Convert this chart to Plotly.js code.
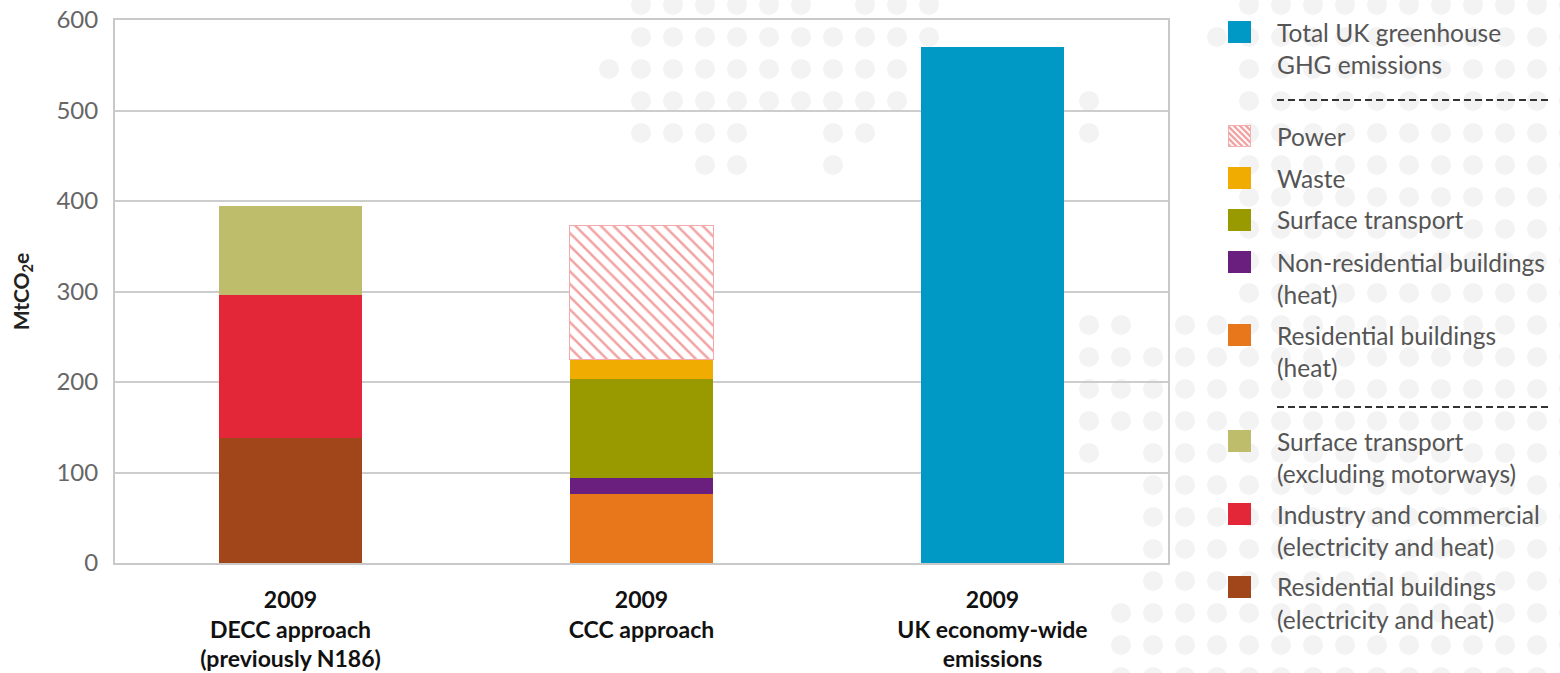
<!DOCTYPE html>
<html>
<head>
<meta charset="utf-8">
<script src="https://cdn.plot.ly/plotly-3.0.1.min.js"></script>
<style>html,body{margin:0;padding:0;background:#fff;}#chart{width:1560px;height:673px;}</style>
</head>
<body>
<div id="chart"></div>
<script>
// ---- data ----
const categories = ["2009<br>DECC approach<br>(previously N186)", "2009<br>CCC approach", "2009<br>UK economy-wide<br>emissions"];
const residentialElecHeat = [138, null, null];
const industryCommercial = [158, null, null];
const surfaceTransportExcl = [99, null, null];
const residentialHeat = [null, 76, null];
const nonResidentialHeat = [null, 18, null];
const surfaceTransport = [null, 109, null];
const waste = [null, 22, null];
const power = [null, 148, null];
const totalUK = [null, null, 570];
const yTicks = [0, 100, 200, 300, 400, 500, 600];

const legendNames = [
  ["Total UK greenhouse", "GHG emissions"],
  ["Power"],
  ["Waste"],
  ["Surface transport"],
  ["Non-residential buildings", "(heat)"],
  ["Residential buildings", "(heat)"],
  ["Surface transport", "(excluding motorways)"],
  ["Industry and commercial", "(electricity and heat)"],
  ["Residential buildings", "(electricity and heat)"]
];

// ---- styles ----
const C = {
  blue: '#0099C6', pink: '#F2A0A0', waste: '#F0AC00', olive: '#999A00',
  purple: '#6A1F7E', orange: '#E8761B', oliveLight: '#BDBD6C', red: '#E32638', brown: '#A0461A'
};
const legendColors = [C.blue, 'hatch', C.waste, C.olive, C.purple, C.orange, C.oliveLight, C.red, C.brown];
const legendY = [32, 136, 178, 220, 262, 335, 441, 514, 587];

function bar(name, y, color, extra) {
  const t = {type: 'bar', name: name, x: categories, y: y, showlegend: false,
    marker: {color: color, line: {width: 0}}, hovertemplate: name + ': %{y}<extra></extra>'};
  return Object.assign(t, extra || {});
}
const traces = [
  bar('Residential buildings (electricity and heat)', residentialElecHeat, C.brown),
  bar('Industry and commercial (electricity and heat)', industryCommercial, C.red),
  bar('Surface transport (excluding motorways)', surfaceTransportExcl, C.oliveLight),
  bar('Residential buildings (heat)', residentialHeat, C.orange),
  bar('Non-residential buildings (heat)', nonResidentialHeat, C.purple),
  bar('Surface transport', surfaceTransport, C.olive),
  bar('Waste', waste, C.waste),
  bar('Power', power, '#ffffff', {marker: {color: '#ffffff',
    pattern: {shape: '\\', fgcolor: '#F2A2A2', bgcolor: '#ffffff', size: 9, solidity: 0.28, fillmode: 'replace'},
    line: {color: '#F4AAAA', width: 1.5}}}),
  bar('Total UK greenhouse GHG emissions', totalUK, C.blue)
];

// ---- layout geometry ----
const L = 115, T = 20, W = 1053, H = 543;
const px = x => (x - L) / W;
const py = y => (T + H - y) / H;

// background dot decoration
function dotOn(c, r) {
  const top = {0: [[1,6],[8,10]], 1: [[1,10]], 2: [[0,9]], 3: [[1,9],[15,15]], 4: [[1,4],[7,8],[15,15]], 5: [[3,4],[7,7]]};
  if (top[r]) for (const [a,b] of top[r]) if (c >= a && c <= b) return true;
  if (r === 0) return c >= 20;
  if (r === 1) return c >= 19;
  if (r >= 2 && r <= 9) return c >= 20;
  if (r === 10) return c === 15 || c === 16 || c >= 18;
  if (r >= 11) {
    if (c === 15 && r >= 15) return false;
    if (c === 16 && r >= 14 && r <= 18) return false;
    return c >= 15;
  }
  return false;
}
let dots = '';
for (let r = 0; r <= 21; r++) for (let c = 0; c <= 30; c++) {
  if (dotOn(c, r)) dots += `<circle cx="${609 + 32 * c}" cy="${5 + 32 * r}" r="10" fill="#F3F3F3"/>`;
}
const dotSvg = `<svg xmlns="http://www.w3.org/2000/svg" width="1560" height="673" viewBox="0 0 1560 673">${dots}</svg>`;
const hatchSvg = `<svg xmlns="http://www.w3.org/2000/svg" width="23" height="22" viewBox="0 0 23 22"><defs><clipPath id="c"><rect x="0" y="0" width="23" height="22"/></clipPath></defs><rect width="23" height="22" fill="#fff"/><g clip-path="url(#c)" stroke="#F2A3A3" stroke-width="2.4">` +
  [-25,-19,-13,-7,-1,5,11,17,23].map(k => `<line x1="${k}" y1="0" x2="${k+22}" y2="22"/>`).join('') + `</g><rect x="0.5" y="0.5" width="22" height="21" fill="none" stroke="#F4B0B0" stroke-width="1"/></svg>`;
const uri = s => 'data:image/svg+xml;charset=utf-8,' + encodeURIComponent(s);

const images = [{source: uri(dotSvg), xref: 'paper', yref: 'paper', x: px(0), y: py(0),
  sizex: 1560 / W, sizey: 673 / H, xanchor: 'left', yanchor: 'top', sizing: 'stretch', layer: 'below'}];
const shapes = [];
const annotations = [];
const font = 'Lato, "Open Sans", sans-serif';
legendNames.forEach((lines, i) => {
  const yc = legendY[i];
  if (legendColors[i] === 'hatch') {
    images.push({source: uri(hatchSvg), xref: 'paper', yref: 'paper', x: px(1228), y: py(yc - 11),
      sizex: 23 / W, sizey: 22 / H, xanchor: 'left', yanchor: 'top', sizing: 'stretch', layer: 'above'});
  } else {
    shapes.push({type: 'rect', xref: 'paper', yref: 'paper', x0: px(1228), x1: px(1251), y0: py(yc + 11), y1: py(yc - 11),
      fillcolor: legendColors[i], line: {width: 0}});
  }
  lines.forEach((ln, j) => {
    annotations.push({xref: 'paper', yref: 'paper', x: px(1275), y: py(yc + 32 * j), xanchor: 'left', yanchor: 'middle',
      text: ln, showarrow: false, font: {family: font, size: 24.5, color: '#555555'}});
  });
});
[100, 407].forEach(yy => shapes.push({type: 'line', xref: 'paper', yref: 'paper', x0: px(1277), x1: px(1551), y0: py(yy), y1: py(yy),
  line: {color: '#333333', width: 2, dash: '7px,4px'}}));

const layout = {
  width: 1560, height: 673,
  margin: {l: L, r: 1560 - L - W, t: T, b: 673 - T - H, pad: 0},
  paper_bgcolor: '#ffffff', plot_bgcolor: 'rgba(0,0,0,0)',
  barmode: 'stack', bargap: 0.59,
  showlegend: false,
  font: {family: font},
  xaxis: {type: 'category', showgrid: false, showline: true, mirror: true, linecolor: '#C9C9C9', linewidth: 2,
    ticks: '', ticklabelstandoff: 15, tickfont: {family: font, size: 23, color: '#111111', weight: 'bold'}},
  yaxis: {range: [0, 600], tickvals: yTicks, showgrid: true, gridcolor: '#CDCDCD', gridwidth: 2, zeroline: false,
    showline: true, mirror: true, linecolor: '#C9C9C9', linewidth: 2, ticks: '', ticklabelstandoff: 10,
    tickfont: {family: font, size: 24, color: '#666666'},
    title: {text: 'MtCO<sub>2</sub>e', standoff: 21, font: {family: font, size: 21, color: '#222222', weight: 'bold'}}},
  images: images, shapes: shapes, annotations: annotations
};
Plotly.newPlot('chart', traces, layout, {displayModeBar: false, staticPlot: true});
</script>
</body>
</html>
